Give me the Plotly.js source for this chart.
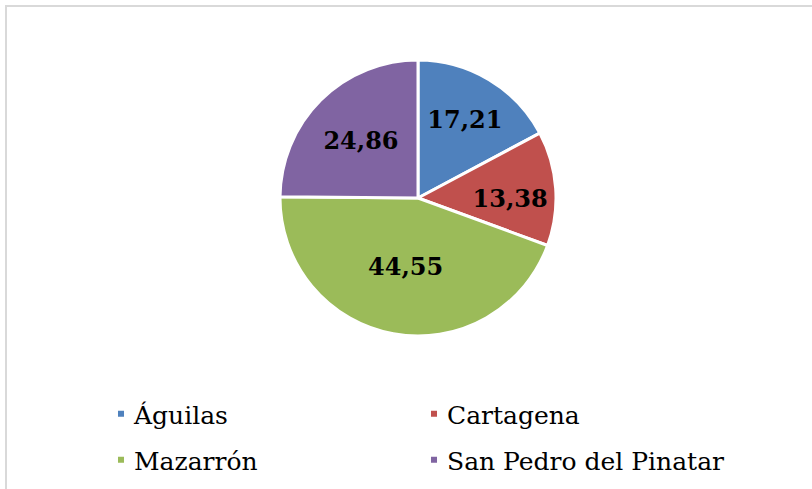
<!DOCTYPE html>
<html>
<head>
<meta charset="utf-8">
<script src="https://cdn.plot.ly/plotly-3.0.1.min.js"></script>
<style>
  html, body { margin: 0; padding: 0; background: #ffffff; overflow: hidden; }
  #wrap { position: relative; width: 812px; height: 489px; overflow: hidden; }
  #frame { position: absolute; left: 5px; top: 5px; width: 900px; height: 600px;
           border-left: 2px solid #d9d9d9; border-top: 2px solid #d9d9d9; }
  #chart { position: absolute; left: 0; top: 0; width: 812px; height: 489px; }
</style>
</head>
<body>
<div id="wrap">
  <div id="frame"></div>
  <div id="chart"></div>
</div>
<script>
const categories = ["Águilas", "Cartagena", "Mazarrón", "San Pedro del Pinatar"];
const values = [17.21, 13.38, 44.55, 24.86];
const colors = ["#4f81bd", "#c0504d", "#9bbb59", "#8064a2"];

const cx = 418, cy = 198, r = 138, W = 812, H = 489;

const trace = {
  type: "pie",
  labels: categories,
  values: values,
  sort: false,
  direction: "clockwise",
  rotation: 0,
  marker: { colors: colors, line: { color: "#ffffff", width: 3 } },
  texttemplate: "%{value:.2f}",
  textposition: "inside",
  insidetextorientation: "horizontal",
  textfont: { family: "DejaVu Serif", size: 24, color: "#000000", weight: "bold" },
  hoverinfo: "label+value",
  domain: { x: [(cx - r) / W, (cx + r) / W], y: [(H - cy - r) / H, (H - cy + r) / H] }
};

const layout = {
  width: W, height: H,
  margin: { l: 0, r: 0, t: 0, b: 0 },
  paper_bgcolor: "rgba(0,0,0,0)",
  plot_bgcolor: "rgba(0,0,0,0)",
  separators: ",.",
  showlegend: true,
  legend: {
    orientation: "h",
    x: 94 / W, xanchor: "left",
    y: 1 - 391 / H, yanchor: "top",
    entrywidth: 268, entrywidthmode: "pixels",
    font: { family: "DejaVu Serif", size: 25, color: "#000000" },
    itemwidth: 30
  }
};

Plotly.newPlot("chart", [trace], layout, { displayModeBar: false, staticPlot: true }).then(function (gd) {
  // let long legend labels show in full
  const leg = gd.querySelector(".legend");
  if (leg) {
    leg.removeAttribute("clip-path");
    leg.querySelectorAll("[clip-path]").forEach(function (el) { el.removeAttribute("clip-path"); });
  }
  // smaller legend swatches sitting closer to the text
  gd.querySelectorAll(".legend .legendpoints path").forEach(function (p) {
    p.setAttribute("transform", "translate(27,0) scale(0.67)");
  });
  // wider spacing between legend rows
  const items = Array.from(gd.querySelectorAll(".legend g.traces"));
  const parsed = items.map(function (g) {
    const m = /translate\(\s*([-\d.]+)[ ,]+([-\d.]+)\s*\)/.exec(g.getAttribute("transform") || "");
    return { g: g, x: m ? +m[1] : 0, y: m ? +m[2] : 0 };
  });
  const ys = Array.from(new Set(parsed.map(function (p) { return p.y; }))).sort(function (a, b) { return a - b; });
  parsed.forEach(function (p) {
    const row = ys.indexOf(p.y);
    p.g.setAttribute("transform", "translate(" + p.x + "," + (ys[0] + row * 46) + ")");
  });
});
</script>
</body>
</html>
